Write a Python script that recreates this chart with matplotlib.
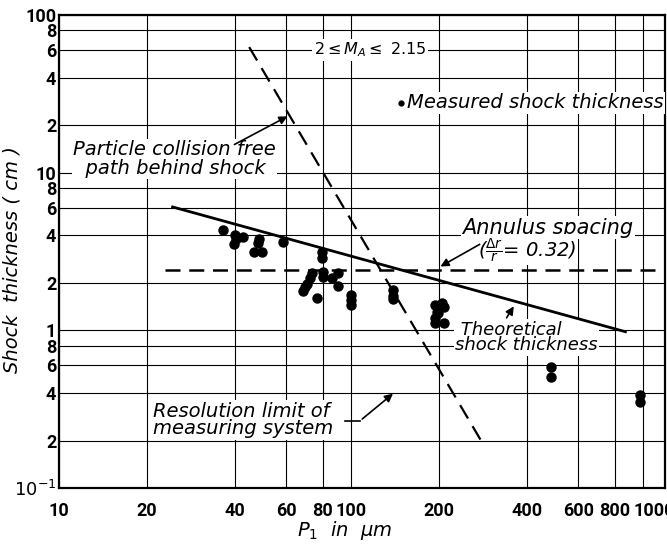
import matplotlib
matplotlib.use("Agg")
import matplotlib.pyplot as plt
import matplotlib.transforms as mtransforms

# measured shock thickness
rho_40 = [36.4, 40.1, 40.4, 39.8, 42.8, 48.5, 48.1, 46.7, 49.5, 58.4]
thick_40 = [4.33, 4.03, 3.78, 3.51, 3.93, 3.78, 3.57, 3.16, 3.16, 3.65]
rho_80 = [79.4, 79.4, 73.8, 72.4, 70.8, 69.5, 68.6, 80.4, 80.4, 85.9, 90.5, 90.5, 76.2]
thick_80 = [3.16, 2.86, 2.30, 2.14, 1.97, 1.88, 1.78, 2.36, 2.19, 2.14, 2.32, 1.91, 1.60]
rho_100 = [100, 100, 100, 139, 139, 139]
thick_100 = [1.68, 1.55, 1.44, 1.80, 1.66, 1.57]
rho_200 = [194, 205, 208, 197, 194, 194, 208, 199]
thick_200 = [1.45, 1.48, 1.41, 1.31, 1.19, 1.11, 1.11, 1.28]
rho_hi = [484, 484, 977, 977]
thick_hi = [0.586, 0.506, 0.389, 0.353]

# reference lines (end points)
theory_x = [24.5, 870]
theory_y = [6.06, 0.98]
annulus_x = [23.1, 1100]
annulus_y = [2.42, 2.42]
resolution_x = [44.8, 280]
resolution_y = [62.6, 0.197]

xticks = [10, 20, 40, 60, 80, 100, 200, 400, 600, 800, 1000]
xlabels = ['10', '20', '40', '60', '80', '100', '200', '400', '600', '800', '1000']
yticks = [0.1, 0.2, 0.4, 0.6, 0.8, 1, 2, 4, 6, 8, 10, 20, 40, 60, 80, 100]
ylabels = ['$10^{-1}$', '2', '4', '6', '8', '1', '2', '4', '6', '8', '10',
           '2', '4', '6', '8', '100']

plt.rcParams['font.family'] = ['DejaVu Sans']
plt.rcParams['mathtext.fontset'] = 'dejavusans'

fig = plt.figure(figsize=(6.67, 5.48), dpi=100)
ax = fig.add_axes([59 / 667, 1 - 488 / 548, 606 / 667, 473 / 548])
ax.set_xscale('log')
ax.set_yscale('log')
ax.set_xlim(10, 1189)
ax.set_ylim(0.1, 100)

ax.set_xticks(xticks)
ax.set_xticklabels(xlabels)
ax.set_yticks(yticks)
ax.set_yticklabels(ylabels)
ax.minorticks_off()
ax.tick_params(length=0, labelsize=13)
ax.tick_params(axis='x', pad=10)
ax.tick_params(axis='y', pad=2)
for lab in ax.get_xticklabels() + ax.get_yticklabels():
    lab.set_family(['Roboto', 'DejaVu Sans'])
    lab.set_fontweight('bold')
# the 1000 label sits right of its grid line in the original (and runs off the edge)
last = ax.get_xticklabels()[-1]
last.set_transform(last.get_transform() +
                   mtransforms.ScaledTranslation(11 / 100, 0, fig.dpi_scale_trans))
ax.grid(True, color='k', lw=0.8)
ax.set_axisbelow(True)
for s in ax.spines.values():
    s.set_linewidth(1.6)

dots = dict(ls='none', marker='o', ms=6.5, color='k', zorder=3)
ax.plot(rho_40, thick_40, **dots)
ax.plot(rho_80, thick_80, **dots)
ax.plot(rho_100, thick_100, **dots)
ax.plot(rho_200, thick_200, **dots)
ax.plot(rho_hi, thick_hi, **dots)

ax.plot(theory_x, theory_y, color='k', lw=2, zorder=5)
ax.plot(annulus_x, annulus_y, color='k', lw=1.8, dashes=(6, 3.5), zorder=5)
ax.plot(resolution_x, resolution_y, color='k', lw=1.6, dashes=(7, 4), zorder=5)

box = dict(fc='white', ec='none', pad=1)
arr = dict(arrowstyle='-|>', color='k', lw=1.2, mutation_scale=12)

ax.text(11.2, 12.2, 'Particle collision free\n  path behind shock', ha='left',
        va='center', style='italic', fontsize=14, linespacing=0.95, zorder=4, bbox=box)
ax.annotate('', xy=(61.8, 23.2), xytext=(39.1, 14.8), arrowprops=arr, zorder=5)

ax.text(116, 60, r'2$\leq$$M_A$$\leq$ 2.15', ha='center', va='center',
        fontsize=11.5, zorder=4, bbox=box)

ax.plot([148], [27.7], ls='none', marker='o', ms=3.5, color='k', zorder=4)
ax.text(156, 27.7, 'Measured shock thickness', ha='left', va='center',
        style='italic', fontsize=14, zorder=4, bbox=box)

ax.text(473, 4.46, 'Annulus spacing', ha='center', va='center',
        style='italic', fontsize=15, zorder=4, bbox=box)
ax.text(401, 3.24, r'($\frac{\Delta r}{r}$= 0.32)', ha='center', va='center',
        style='italic', fontsize=14, zorder=4, bbox=box)
ax.annotate('', xy=(198.6, 2.49), xytext=(281, 3.58), arrowprops=arr, zorder=5)

ax.text(227, 0.9, ' Theoretical\nshock thickness', ha='left', va='center',
        style='italic', fontsize=13, linespacing=0.85, zorder=4, bbox=box)
ax.annotate('', xy=(365, 1.47), xytext=(337, 1.16), arrowprops=arr, zorder=5)

ax.text(21, 0.27, 'Resolution limit of\nmeasuring system', ha='left', va='center',
        style='italic', fontsize=14, linespacing=0.9, zorder=4, bbox=box)
ax.plot([95.3, 107.4], [0.267, 0.267], color='k', lw=1.2, zorder=4)
ax.annotate('', xy=(141.6, 0.407), xytext=(107.4, 0.267), arrowprops=arr, zorder=5)

ax.set_xlabel(r'$P_1$  in  $\mu$m', fontsize=14, style='italic')
ax.xaxis.set_label_coords(0.472, -0.066)
ax.set_ylabel('Shock  thickness ( cm )', fontsize=14, style='italic')
ax.yaxis.set_label_coords(-0.062, 0.482)

fig.savefig('out.png', dpi=100)
